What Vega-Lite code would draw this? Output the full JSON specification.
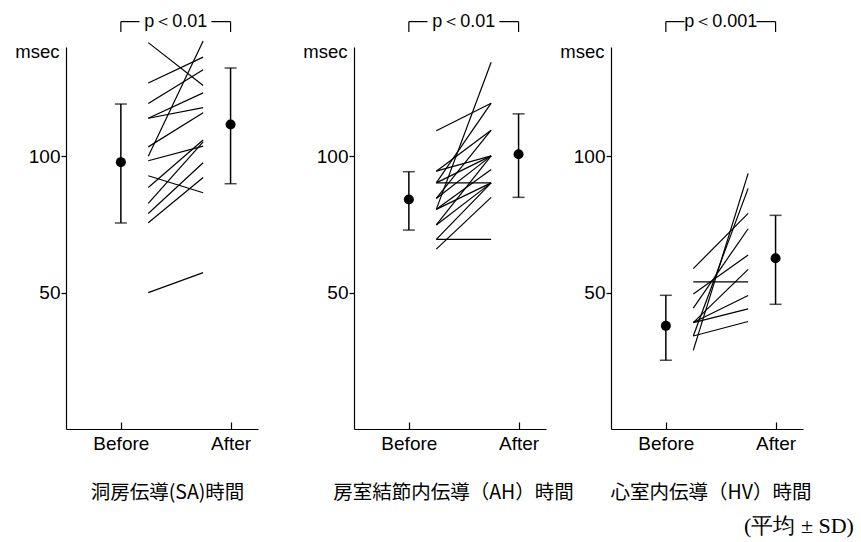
{
  "$schema": "https://vega.github.io/schema/vega-lite/v6.json",
  "padding": {"left": 14, "top": 12, "right": 5, "bottom": 5},
  "background": "white",
  "config": {
    "view": {"stroke": null},
    "font": "Liberation Sans",
    "axis": {"grid": false, "domainColor": "black", "tickColor": "black", "labelColor": "black", "titleColor": "black", "labelFont": "Liberation Sans", "labelFontSize": 19, "domainWidth": 1.2, "tickWidth": 1.2}
  },
  "title": {"text": "(平均 ± SD)", "orient": "bottom", "anchor": "end", "font": "Liberation Serif", "fontSize": 22, "fontWeight": "normal", "color": "black", "offset": 14, "dx": 43},
  "bounds": "flush",
  "spacing": 30,
  "hconcat": [
    {
      "width": 192, "height": 382,
      "layer": [
        {
          "data": {"values": [
            {"before": 141.6, "after": 125.9}, {"before": 126.8, "after": 136.3}, {"before": 119.3, "after": 131.7},
            {"before": 113.9, "after": 123.2}, {"before": 113.9, "after": 117.8}, {"before": 103.4, "after": 115.9},
            {"before": 100.0, "after": 142.2}, {"before": 98.3, "after": 103.7}, {"before": 92.8, "after": 86.6},
            {"before": 88.5, "after": 105.9}, {"before": 82.7, "after": 105.2}, {"before": 79.0, "after": 97.6},
            {"before": 75.6, "after": 92.2}, {"before": 50.0, "after": 57.3}
          ]},
          "mark": {"type": "rule", "color": "black", "strokeWidth": 1.2},
          "encoding": {
            "x": {"datum": 3, "type": "quantitative", "scale": {"domain": [0, 7]},
                  "axis": {"values": [2, 6], "labelExpr": "datum.value == 2 ? 'Before' : 'After'", "tickSize": -7, "labelPadding": 12, "title": "洞房伝導(SA)時間", "titleFont": "Noto Sans CJK JP", "titleFontSize": 19.5, "titleFontWeight": "normal", "titleY": 63, "titleX": 101, "titleBaseline": "middle"}},
            "x2": {"datum": 5},
            "y": {"field": "before", "type": "quantitative", "scale": {"domain": [0, 140]},
                  "axis": {"values": [50, 100], "tickSize": 5, "labelPadding": 1, "title": "msec", "titleAngle": 0, "titleAlign": "right", "titleX": -7, "titleY": 4, "titleBaseline": "middle", "titleFont": "Liberation Sans", "titleFontSize": 18.5, "titleFontWeight": "normal"}},
            "y2": {"field": "after"}
          }
        },
        {
          "data": {"values": [{"mean_b": 97.8, "lo_b": 75.5, "hi_b": 119.1, "mean_a": 111.6, "lo_a": 89.9, "hi_a": 132.3, "p": "p＜0.01"}]},
          "layer": [
            {"mark": {"type": "rule", "color": "black", "strokeWidth": 1.5}, "encoding": {"x": {"datum": 2, "type": "quantitative"}, "y": {"field": "lo_b", "type": "quantitative"}, "y2": {"field": "hi_b"}}},
            {"mark": {"type": "tick", "orient": "horizontal", "color": "black", "size": 12, "thickness": 1.5}, "encoding": {"x": {"datum": 2, "type": "quantitative"}, "y": {"field": "lo_b", "type": "quantitative"}}},
            {"mark": {"type": "tick", "orient": "horizontal", "color": "black", "size": 12, "thickness": 1.5}, "encoding": {"x": {"datum": 2, "type": "quantitative"}, "y": {"field": "hi_b", "type": "quantitative"}}},
            {"mark": {"type": "point", "filled": true, "color": "black", "size": 100, "opacity": 1}, "encoding": {"x": {"datum": 2, "type": "quantitative"}, "y": {"field": "mean_b", "type": "quantitative"}}},
            {"mark": {"type": "rule", "color": "black", "strokeWidth": 1.5}, "encoding": {"x": {"datum": 6, "type": "quantitative"}, "y": {"field": "lo_a", "type": "quantitative"}, "y2": {"field": "hi_a"}}},
            {"mark": {"type": "tick", "orient": "horizontal", "color": "black", "size": 12, "thickness": 1.5}, "encoding": {"x": {"datum": 6, "type": "quantitative"}, "y": {"field": "lo_a", "type": "quantitative"}}},
            {"mark": {"type": "tick", "orient": "horizontal", "color": "black", "size": 12, "thickness": 1.5}, "encoding": {"x": {"datum": 6, "type": "quantitative"}, "y": {"field": "hi_a", "type": "quantitative"}}},
            {"mark": {"type": "point", "filled": true, "color": "black", "size": 100, "opacity": 1}, "encoding": {"x": {"datum": 6, "type": "quantitative"}, "y": {"field": "mean_a", "type": "quantitative"}}},
            {"mark": {"type": "rule", "color": "black", "strokeWidth": 1.2}, "encoding": {"x": {"datum": 2}, "x2": {"datum": 2.68}, "y": {"datum": 149.3}}},
            {"mark": {"type": "rule", "color": "black", "strokeWidth": 1.2}, "encoding": {"x": {"datum": 5.3}, "x2": {"datum": 6}, "y": {"datum": 149.3}}},
            {"mark": {"type": "rule", "color": "black", "strokeWidth": 1.2}, "encoding": {"x": {"datum": 2}, "y": {"datum": 145.5}, "y2": {"datum": 149.3}}},
            {"mark": {"type": "rule", "color": "black", "strokeWidth": 1.2}, "encoding": {"x": {"datum": 6}, "y": {"datum": 145.5}, "y2": {"datum": 149.3}}},
            {"mark": {"type": "text", "color": "black", "fontSize": 18, "font": "Liberation Sans", "baseline": "middle", "align": "center"}, "encoding": {"x": {"datum": 4}, "y": {"datum": 149.3}, "text": {"field": "p"}}}
          ]
        }
      ]
    },
    {"width": 36, "height": 382, "data": {"values": [{}]}, "mark": {"type": "text", "text": ""}, "encoding": {}},
    {
      "width": 192, "height": 382,
      "layer": [
        {
          "data": {"values": [
            {"before": 109.3, "after": 119.4}, {"before": 80.5, "after": 134.4}, {"before": 90.2, "after": 119.4},
            {"before": 94.5, "after": 109.5}, {"before": 90.2, "after": 100.1}, {"before": 90.2, "after": 90.2},
            {"before": 84.5, "after": 109.5}, {"before": 84.5, "after": 100.1}, {"before": 94.5, "after": 100.1},
            {"before": 80.5, "after": 95.1}, {"before": 74.8, "after": 100.1}, {"before": 74.8, "after": 90.2},
            {"before": 69.5, "after": 90.2}, {"before": 65.9, "after": 84.9}, {"before": 69.5, "after": 69.5},
            {"before": 80.5, "after": 90.2}
          ]},
          "mark": {"type": "rule", "color": "black", "strokeWidth": 1.2},
          "encoding": {
            "x": {"datum": 3, "type": "quantitative", "scale": {"domain": [0, 7]},
                  "axis": {"values": [2, 6], "labelExpr": "datum.value == 2 ? 'Before' : 'After'", "tickSize": -7, "labelPadding": 12, "title": "房室結節内伝導（AH）時間", "titleFont": "Noto Sans CJK JP", "titleFontSize": 19.5, "titleFontWeight": "normal", "titleY": 63, "titleX": 99, "titleBaseline": "middle"}},
            "x2": {"datum": 5},
            "y": {"field": "before", "type": "quantitative", "scale": {"domain": [0, 140]},
                  "axis": {"values": [50, 100], "tickSize": 5, "labelPadding": 1, "title": "msec", "titleAngle": 0, "titleAlign": "right", "titleX": -7, "titleY": 4, "titleBaseline": "middle", "titleFont": "Liberation Sans", "titleFontSize": 18.5, "titleFontWeight": "normal"}},
            "y2": {"field": "after"}
          }
        },
        {
          "data": {"values": [{"mean_b": 84.1, "lo_b": 72.9, "hi_b": 94.3, "mean_a": 100.7, "lo_a": 84.9, "hi_a": 115.5, "p": "p＜0.01"}]},
          "layer": [
            {"mark": {"type": "rule", "color": "black", "strokeWidth": 1.5}, "encoding": {"x": {"datum": 2, "type": "quantitative"}, "y": {"field": "lo_b", "type": "quantitative"}, "y2": {"field": "hi_b"}}},
            {"mark": {"type": "tick", "orient": "horizontal", "color": "black", "size": 12, "thickness": 1.5}, "encoding": {"x": {"datum": 2, "type": "quantitative"}, "y": {"field": "lo_b", "type": "quantitative"}}},
            {"mark": {"type": "tick", "orient": "horizontal", "color": "black", "size": 12, "thickness": 1.5}, "encoding": {"x": {"datum": 2, "type": "quantitative"}, "y": {"field": "hi_b", "type": "quantitative"}}},
            {"mark": {"type": "point", "filled": true, "color": "black", "size": 100, "opacity": 1}, "encoding": {"x": {"datum": 2, "type": "quantitative"}, "y": {"field": "mean_b", "type": "quantitative"}}},
            {"mark": {"type": "rule", "color": "black", "strokeWidth": 1.5}, "encoding": {"x": {"datum": 6, "type": "quantitative"}, "y": {"field": "lo_a", "type": "quantitative"}, "y2": {"field": "hi_a"}}},
            {"mark": {"type": "tick", "orient": "horizontal", "color": "black", "size": 12, "thickness": 1.5}, "encoding": {"x": {"datum": 6, "type": "quantitative"}, "y": {"field": "lo_a", "type": "quantitative"}}},
            {"mark": {"type": "tick", "orient": "horizontal", "color": "black", "size": 12, "thickness": 1.5}, "encoding": {"x": {"datum": 6, "type": "quantitative"}, "y": {"field": "hi_a", "type": "quantitative"}}},
            {"mark": {"type": "point", "filled": true, "color": "black", "size": 100, "opacity": 1}, "encoding": {"x": {"datum": 6, "type": "quantitative"}, "y": {"field": "mean_a", "type": "quantitative"}}},
            {"mark": {"type": "rule", "color": "black", "strokeWidth": 1.2}, "encoding": {"x": {"datum": 2}, "x2": {"datum": 2.68}, "y": {"datum": 149.3}}},
            {"mark": {"type": "rule", "color": "black", "strokeWidth": 1.2}, "encoding": {"x": {"datum": 5.3}, "x2": {"datum": 6}, "y": {"datum": 149.3}}},
            {"mark": {"type": "rule", "color": "black", "strokeWidth": 1.2}, "encoding": {"x": {"datum": 2}, "y": {"datum": 145.5}, "y2": {"datum": 149.3}}},
            {"mark": {"type": "rule", "color": "black", "strokeWidth": 1.2}, "encoding": {"x": {"datum": 6}, "y": {"datum": 145.5}, "y2": {"datum": 149.3}}},
            {"mark": {"type": "text", "color": "black", "fontSize": 18, "font": "Liberation Sans", "baseline": "middle", "align": "center"}, "encoding": {"x": {"datum": 4}, "y": {"datum": 149.3}, "text": {"field": "p"}}}
          ]
        }
      ]
    },
    {"width": 5, "height": 382, "data": {"values": [{}]}, "mark": {"type": "text", "text": ""}, "encoding": {}},
    {
      "width": 192, "height": 382,
      "layer": [
        {
          "data": {"values": [
            {"before": 58.8, "after": 79.0}, {"before": 53.9, "after": 53.9}, {"before": 49.5, "after": 63.8},
            {"before": 44.3, "after": 73.4}, {"before": 39.0, "after": 58.5}, {"before": 39.0, "after": 48.9},
            {"before": 39.0, "after": 44.0}, {"before": 34.1, "after": 39.4}, {"before": 28.8, "after": 93.7},
            {"before": 34.1, "after": 88.2}
          ]},
          "mark": {"type": "rule", "color": "black", "strokeWidth": 1.2},
          "encoding": {
            "x": {"datum": 3, "type": "quantitative", "scale": {"domain": [0, 7]},
                  "axis": {"values": [2, 6], "labelExpr": "datum.value == 2 ? 'Before' : 'After'", "tickSize": -7, "labelPadding": 12, "title": "心室内伝導（HV）時間", "titleFont": "Noto Sans CJK JP", "titleFontSize": 19.5, "titleFontWeight": "normal", "titleY": 63, "titleX": 99.5, "titleBaseline": "middle"}},
            "x2": {"datum": 5},
            "y": {"field": "before", "type": "quantitative", "scale": {"domain": [0, 140]},
                  "axis": {"values": [50, 100], "tickSize": 5, "labelPadding": 1, "title": "msec", "titleAngle": 0, "titleAlign": "right", "titleX": -7, "titleY": 4, "titleBaseline": "middle", "titleFont": "Liberation Sans", "titleFontSize": 18.5, "titleFontWeight": "normal"}},
            "y2": {"field": "after"}
          }
        },
        {
          "data": {"values": [{"mean_b": 37.8, "lo_b": 25.2, "hi_b": 49.0, "mean_a": 62.6, "lo_a": 45.7, "hi_a": 78.3, "p": "p＜0.001"}]},
          "layer": [
            {"mark": {"type": "rule", "color": "black", "strokeWidth": 1.5}, "encoding": {"x": {"datum": 2, "type": "quantitative"}, "y": {"field": "lo_b", "type": "quantitative"}, "y2": {"field": "hi_b"}}},
            {"mark": {"type": "tick", "orient": "horizontal", "color": "black", "size": 12, "thickness": 1.5}, "encoding": {"x": {"datum": 2, "type": "quantitative"}, "y": {"field": "lo_b", "type": "quantitative"}}},
            {"mark": {"type": "tick", "orient": "horizontal", "color": "black", "size": 12, "thickness": 1.5}, "encoding": {"x": {"datum": 2, "type": "quantitative"}, "y": {"field": "hi_b", "type": "quantitative"}}},
            {"mark": {"type": "point", "filled": true, "color": "black", "size": 100, "opacity": 1}, "encoding": {"x": {"datum": 2, "type": "quantitative"}, "y": {"field": "mean_b", "type": "quantitative"}}},
            {"mark": {"type": "rule", "color": "black", "strokeWidth": 1.5}, "encoding": {"x": {"datum": 6, "type": "quantitative"}, "y": {"field": "lo_a", "type": "quantitative"}, "y2": {"field": "hi_a"}}},
            {"mark": {"type": "tick", "orient": "horizontal", "color": "black", "size": 12, "thickness": 1.5}, "encoding": {"x": {"datum": 6, "type": "quantitative"}, "y": {"field": "lo_a", "type": "quantitative"}}},
            {"mark": {"type": "tick", "orient": "horizontal", "color": "black", "size": 12, "thickness": 1.5}, "encoding": {"x": {"datum": 6, "type": "quantitative"}, "y": {"field": "hi_a", "type": "quantitative"}}},
            {"mark": {"type": "point", "filled": true, "color": "black", "size": 100, "opacity": 1}, "encoding": {"x": {"datum": 6, "type": "quantitative"}, "y": {"field": "mean_a", "type": "quantitative"}}},
            {"mark": {"type": "rule", "color": "black", "strokeWidth": 1.2}, "encoding": {"x": {"datum": 2}, "x2": {"datum": 2.68}, "y": {"datum": 149.3}}},
            {"mark": {"type": "rule", "color": "black", "strokeWidth": 1.2}, "encoding": {"x": {"datum": 5.3}, "x2": {"datum": 6}, "y": {"datum": 149.3}}},
            {"mark": {"type": "rule", "color": "black", "strokeWidth": 1.2}, "encoding": {"x": {"datum": 2}, "y": {"datum": 145.5}, "y2": {"datum": 149.3}}},
            {"mark": {"type": "rule", "color": "black", "strokeWidth": 1.2}, "encoding": {"x": {"datum": 6}, "y": {"datum": 145.5}, "y2": {"datum": 149.3}}},
            {"mark": {"type": "text", "color": "black", "fontSize": 18, "font": "Liberation Sans", "baseline": "middle", "align": "center"}, "encoding": {"x": {"datum": 4}, "y": {"datum": 149.3}, "text": {"field": "p"}}}
          ]
        }
      ]
    }
  ]
}
